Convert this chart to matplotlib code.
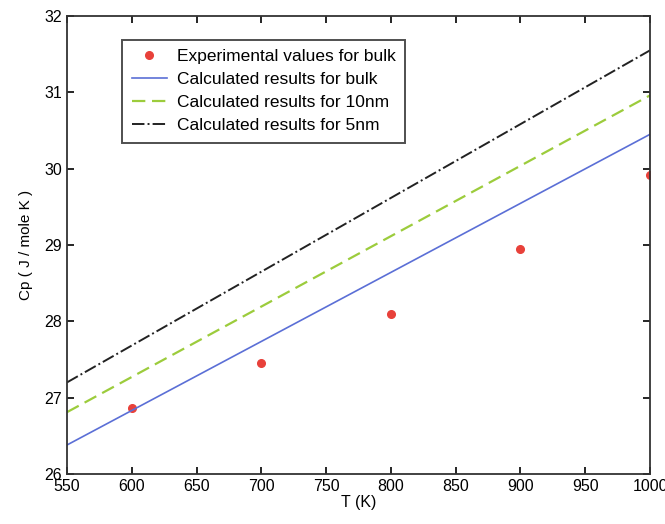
import numpy as np
import matplotlib
matplotlib.use('Agg')
import matplotlib.pyplot as plt

plt.rcParams['font.family'] = ['Liberation Sans', 'DejaVu Sans']

# measured points (bulk)
T_exp = [600, 700, 800, 900, 1000]
cp_exp = [26.87, 27.45, 28.10, 28.95, 29.92]

# calculated lines (straight, endpoints)
T_calc = [550, 1000]
cp_bulk = [26.38, 30.45]
cp_10nm = [26.81, 30.96]
cp_5nm = [27.20, 31.55]

x_ticks = list(range(550, 1001, 50))
y_ticks = list(range(26, 33))

fig = plt.figure(figsize=(6.65, 5.24), dpi=100)
ax = fig.add_axes([67/665, 50/524, 583/665, 458/524])

ax.plot(T_exp, cp_exp, 'o', color='#e8413a', markersize=5.5, label='Experimental values for bulk')
ax.plot(T_calc, cp_bulk, '-', color='#5b6fd6', lw=1.2, label='Calculated results for bulk')
ax.plot(T_calc, cp_10nm, '--', color='#9ccc3c', lw=1.6, dashes=(6, 3), label='Calculated results for 10nm')
ax.plot(T_calc, cp_5nm, '-.', color='#222222', lw=1.4, label='Calculated results for 5nm')

ax.set_xlim(550, 1000)
ax.set_ylim(26, 32)
ax.set_xticks(x_ticks)
ax.set_yticks(y_ticks)
ax.tick_params(direction='in', top=True, right=True, labelsize=11.5, length=5, width=1.2)
for s in ax.spines.values():
    s.set_linewidth(1.3)
    s.set_color('#333333')

ax.set_xlabel('T (K)', fontsize=11.5, labelpad=1)
ax.set_ylabel('Cp ( J / mole K )', fontsize=11, labelpad=8)

leg = ax.legend(loc='upper left', bbox_to_anchor=(0.08, 0.967), fontsize=12.5,
                frameon=True, fancybox=False, edgecolor='#222222',
                handlelength=2.0, handletextpad=0.6, borderpad=0.55, labelspacing=0.45)
leg.get_frame().set_linewidth(1.4)

fig.savefig('out.png', dpi=100)
